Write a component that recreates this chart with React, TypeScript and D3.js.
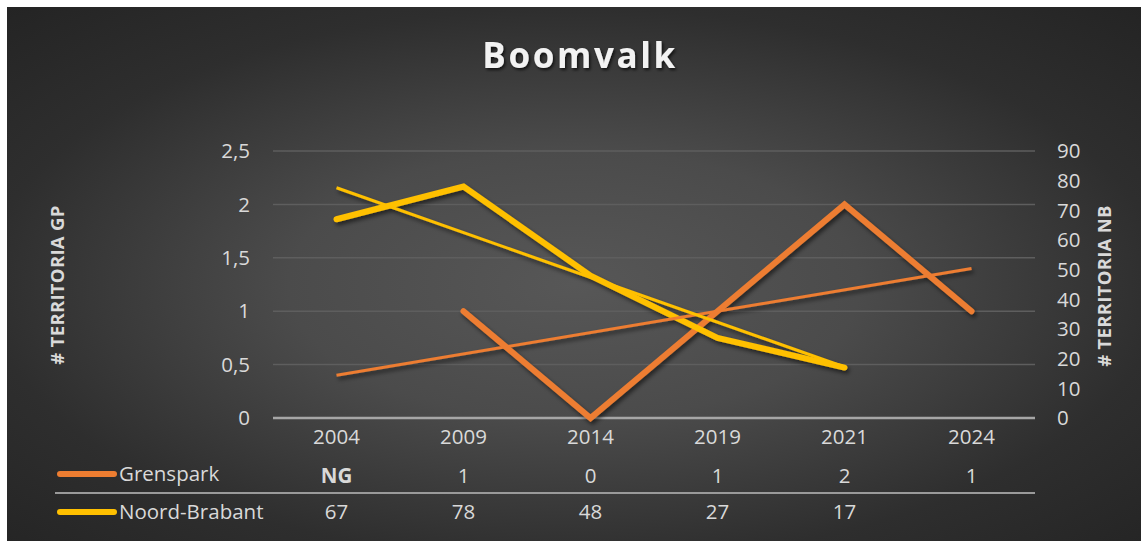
import * as d3 from "d3";

const years = ["2004", "2009", "2014", "2019", "2021", "2024"];
// Grenspark: null = "NG" (niet geteld)
const grenspark: (number | null)[] = [null, 1, 0, 1, 2, 1];
const grensparkLabels = ["NG", "1", "0", "1", "2", "1"];
const noordBrabant: (number | null)[] = [67, 78, 48, 27, 17, null];
const leftTicks = [0, 0.5, 1, 1.5, 2, 2.5];
const rightTicks = [0, 10, 20, 30, 40, 50, 60, 70, 80, 90];

const W = 1141;
const H = 541;
const FONT = "'Open Sans', Lato, sans-serif";
const TXT = "#d9d9d9";
const ORANGE = "#ED7D31";
const YELLOW = "#FFC000";
const FS = 20.5;

// lineaire trendlijn (zoals Excel) over de ingevulde punten
function trend(vals: (number | null)[]) {
  const pts = vals
    .map((v, i) => (v == null ? null : [i + 1, v]))
    .filter((p): p is number[] => p !== null);
  const mx = d3.mean(pts, (p) => p[0])!;
  const my = d3.mean(pts, (p) => p[1])!;
  const slope =
    d3.sum(pts, (p) => (p[0] - mx) * (p[1] - my)) /
    d3.sum(pts, (p) => (p[0] - mx) ** 2);
  const first = pts[0][0];
  const last = pts[pts.length - 1][0];
  return { slope, intercept: my - slope * mx, first, last };
}

export default function App() {
  const x = d3.scaleBand<string>().domain(years).range([273, 1035]);
  const cx = (i: number) => x(years[i])! + x.bandwidth() / 2;
  const yL = d3.scaleLinear().domain([0, 2.5]).range([418, 151]);
  const yR = d3.scaleLinear().domain([0, 90]).range([418, 151]);

  const lineL = d3
    .line<number | null>()
    .defined((d) => d != null)
    .x((_, i) => cx(i))
    .y((d) => yL(d as number));
  const lineR = d3
    .line<number | null>()
    .defined((d) => d != null)
    .x((_, i) => cx(i))
    .y((d) => yR(d as number));

  const tG = trend(grenspark);
  const tN = trend(noordBrabant);
  // Grenspark-trend loopt over de hele categorie-as
  const trendG = d3.line<number>()
    .x((k) => cx(k - 1))
    .y((k) => yL(tG.intercept + tG.slope * k))([1, years.length]);
  const trendN = d3.line<number>()
    .x((k) => cx(k - 1))
    .y((k) => yR(tN.intercept + tN.slope * k))([tN.first, tN.last]);

  return (
    <svg
      width={W}
      height={H}
      style={{ position: "absolute", left: 0, top: 0 }}
      fontFamily={FONT}
    >
      <defs>
        <radialGradient id="bg" cx="0.5" cy="0.52" r="0.72">
          <stop offset="0" stopColor="#575757" />
          <stop offset="0.35" stopColor="#4b4b4b" />
          <stop offset="0.72" stopColor="#2e2e2e" />
          <stop offset="1" stopColor="#242424" />
        </radialGradient>
        <filter id="shadow" x="-10%" y="-10%" width="130%" height="130%">
          <feDropShadow dx="2" dy="3" stdDeviation="2" floodColor="#000" floodOpacity="0.55" />
        </filter>
        <filter id="tshadow" x="-10%" y="-20%" width="130%" height="150%">
          <feDropShadow dx="1.5" dy="2" stdDeviation="1.5" floodColor="#000" floodOpacity="0.7" />
        </filter>
      </defs>
      <rect width={W} height={H} fill="#fff" />
      <rect x={7} y={7} width={W - 7} height={H - 7} fill="url(#bg)" />

      <text
        x={580}
        y={68}
        textAnchor="middle"
        fontSize={35}
        fontWeight="bold"
        letterSpacing={2.6}
        fill="#f2f2f2"
        filter="url(#tshadow)"
      >
        Boomvalk
      </text>

      {/* rasterlijnen */}
      {leftTicks.slice(1).map((t) => (
        <line key={t} x1={273} x2={1035} y1={yL(t)} y2={yL(t)} stroke="#5e5e5e" strokeWidth={1.5} />
      ))}
      <line x1={273} x2={1035} y1={yL(0)} y2={yL(0)} stroke="#a6a6a6" strokeWidth={2.5} />

      {leftTicks.map((t) => (
        <text key={t} x={250} y={yL(t)} dy="0.35em" textAnchor="end" fontSize={FS} fill={TXT}>
          {String(t).replace(".", ",")}
        </text>
      ))}
      {rightTicks.map((t) => (
        <text key={t} x={1057} y={yR(t)} dy="0.35em" textAnchor="start" fontSize={FS} fill={TXT}>
          {t}
        </text>
      ))}

      <text
        transform={`translate(64,285) rotate(-90)`}
        textAnchor="middle"
        fontSize={18.5}
        fontWeight="bold"
        letterSpacing={0.3}
        fill={TXT}
      >
        # TERRITORIA GP
      </text>
      <text
        transform={`translate(1111,286) rotate(-90)`}
        textAnchor="middle"
        fontSize={18.5}
        fontWeight="bold"
        letterSpacing={0.3}
        fill={TXT}
      >
        # TERRITORIA NB
      </text>

      {/* reeksen */}
      <g fill="none" strokeLinecap="round" strokeLinejoin="miter" filter="url(#shadow)">
        <path d={lineL(grenspark)!} stroke={ORANGE} strokeWidth={6} />
        <path d={lineR(noordBrabant)!} stroke={YELLOW} strokeWidth={6} />
        <path d={trendG!} stroke={ORANGE} strokeWidth={3} strokeLinecap="butt" />
        <path d={trendN!} stroke={YELLOW} strokeWidth={3} strokeLinecap="butt" />
      </g>

      {/* gegevenstabel */}
      {years.map((yr, i) => (
        <text key={yr} x={cx(i)} y={437} dy="0.35em" textAnchor="middle" fontSize={FS} fill={TXT}>
          {yr}
        </text>
      ))}
      <line x1={60} x2={114} y1={474} y2={474} stroke={ORANGE} strokeWidth={6} strokeLinecap="round" />
      <text x={119} y={474} dy="0.35em" fontSize={FS} fill={TXT}>Grenspark</text>
      {grensparkLabels.map((v, i) => (
        <text
          key={i}
          x={cx(i)}
          y={476}
          dy="0.35em"
          textAnchor="middle"
          fontSize={FS}
          fontWeight={v === "NG" ? "bold" : "normal"}
          fill={TXT}
        >
          {v}
        </text>
      ))}
      <line x1={55} x2={1035} y1={493} y2={493} stroke="#9a9a9a" strokeWidth={2} />
      <line x1={60} x2={114} y1={512} y2={512} stroke={YELLOW} strokeWidth={6} strokeLinecap="round" />
      <text x={119} y={512} dy="0.35em" fontSize={FS} fill={TXT}>Noord-Brabant</text>
      {noordBrabant.map((v, i) =>
        v == null ? null : (
          <text key={i} x={cx(i)} y={512} dy="0.35em" textAnchor="middle" fontSize={FS} fill={TXT}>
            {v}
          </text>
        )
      )}
    </svg>
  );
}
